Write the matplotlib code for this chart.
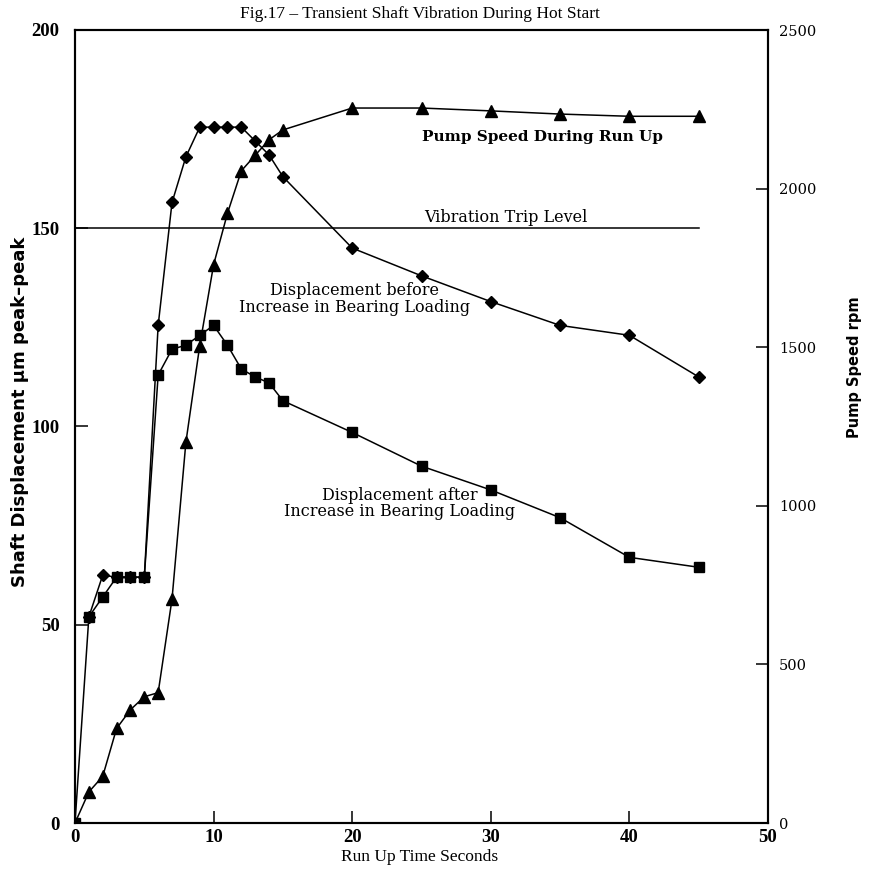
import matplotlib
matplotlib.use("Agg")
import matplotlib.pyplot as plt

# ---- data ----
t_before = [1, 2, 3, 4, 5, 6, 7, 8, 9, 10, 11, 12, 13, 14, 15, 20, 25, 30, 35, 40, 45]
disp_before = [52, 62.5, 62, 62, 62, 125.5, 156.5, 168, 175.5, 175.5, 175.5, 175.5, 172, 168.5, 163, 145, 138, 131.5, 125.5, 123, 112.5]

t_after = [0, 1, 2, 3, 4, 5, 6, 7, 8, 9, 10, 11, 12, 13, 14, 15, 20, 25, 30, 35, 40, 45]
disp_after = [0, 52, 57, 62, 62, 62, 113, 119.5, 120.5, 123, 125.5, 120.5, 114.5, 112.5, 111, 106.5, 98.5, 90, 84, 77, 67, 64.5]

t_speed = [0, 1, 2, 3, 4, 5, 6, 7, 8, 9, 10, 11, 12, 13, 14, 15, 20, 25, 30, 35, 40, 45]
pump_rpm = [0, 98, 147, 298, 357, 398, 411, 706, 1200, 1505, 1760, 1922, 2056, 2105, 2154, 2185, 2254, 2254, 2245, 2235, 2228, 2228]

trip_level = 150
trip_t = [0, 45]

x_ticks = [0, 10, 20, 30, 40, 50]
left_ticks = [0, 50, 100, 150, 200]
right_ticks = [0, 500, 1000, 1500, 2000, 2500]

fig = plt.figure(figsize=(8.74, 8.71), dpi=100)
ax = fig.add_axes([75/874, 1-823/871, 693/874, 793/871])
ax2 = ax.twinx()

lw = 1.1
ax.plot(t_before, disp_before, color='black', lw=lw, marker='D', ms=6.5, zorder=3)
ax.plot(t_after, disp_after, color='black', lw=lw, marker='s', ms=7.5, zorder=3)
ax.plot(trip_t, [trip_level, trip_level], color='black', lw=1.1)
ax2.plot(t_speed, pump_rpm, color='black', lw=lw, marker='^', ms=8.5, zorder=3)

ax.set_xlim(0, 50)
ax.set_ylim(0, 200)
ax2.set_ylim(0, 2500)

ax.set_xticks(x_ticks)
ax.set_yticks(left_ticks)
ax2.set_yticks(right_ticks)

tickfont = dict(family='Liberation Serif', weight='bold', size=13.5)
ax.set_xticklabels([str(v) for v in x_ticks], fontdict=tickfont)
ax.set_yticklabels([str(v) for v in left_ticks], fontdict=tickfont)
ax2.set_yticklabels([str(v) for v in right_ticks], fontdict=dict(family='DejaVu Serif', size=10.5))

ax.tick_params(axis='y', direction='in', length=9, width=1.1, pad=11)
ax.tick_params(axis='x', direction='in', length=9, width=1.1, pad=4)
ax2.tick_params(axis='y', direction='in', length=9, width=1.1, pad=8)

for a in (ax, ax2):
    for s in a.spines.values():
        s.set_linewidth(1.5)

annot = dict(family='DejaVu Serif', size=11.5, ha='center', va='center', linespacing=0.95)
ax.text(33.7, 173, 'Pump Speed During Run Up', fontweight='bold', **dict(annot, size=11))
ax.text(31.1, 152.8, 'Vibration Trip Level', **annot)
ax.text(20.2, 132.2, 'Displacement before\nIncrease in Bearing Loading', **annot)
ax.text(23.4, 80.6, 'Displacement after\nIncrease in Bearing Loading', **annot)

fig.text(0.48, 0.984, 'Fig.17 \u2013 Transient Shaft Vibration During Hot Start',
         ha='center', va='center', family='Liberation Serif', size=12.5)
fig.text(0.48, 0.016, 'Run Up Time Seconds', ha='center', va='center',
         family='Liberation Serif', size=12.5)
fig.text(0.023, 0.527, 'Shaft Displacement \u00b5m peak\u2013peak', rotation=90,
         ha='center', va='center', family='DejaVu Sans', weight='bold', size=13)
fig.text(0.978, 0.578, 'Pump Speed rpm', rotation=90, ha='center', va='center',
         family='DejaVu Sans', weight='bold', size=10.5)

fig.savefig('out.png', dpi=100, facecolor='white')
